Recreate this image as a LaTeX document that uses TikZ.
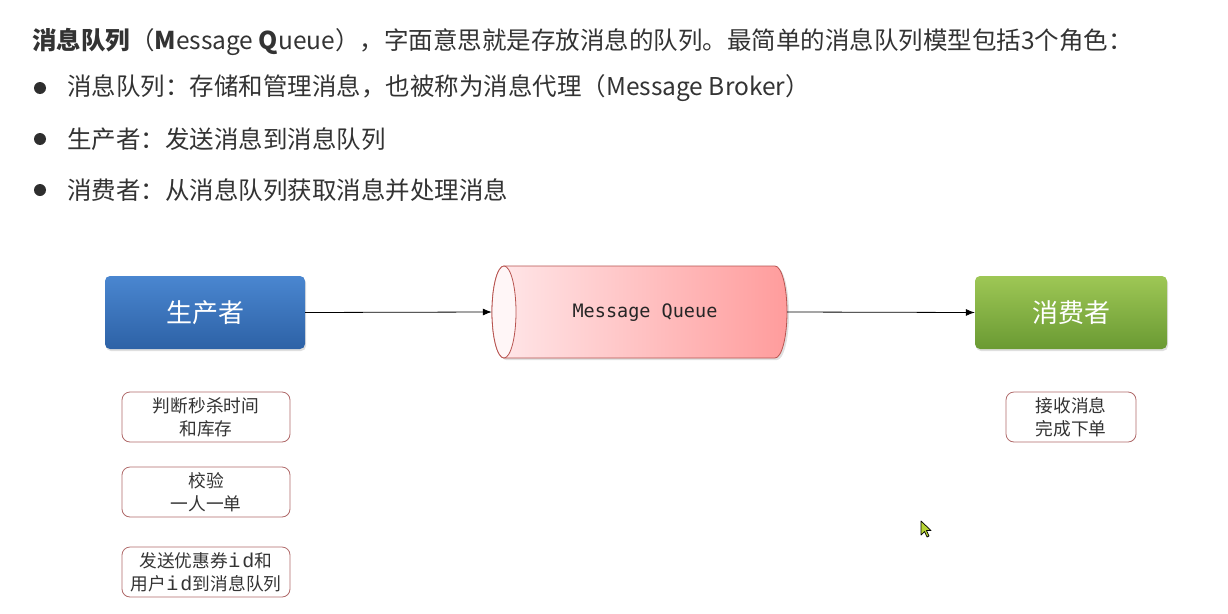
\documentclass[tikz,border=0pt]{standalone}
\usepackage{fontspec}
\setmainfont{Noto Sans CJK SC}
\newfontfamily\cjk{Noto Sans CJK SC}
\newfontfamily\monof{DejaVu Sans Mono}
\newfontfamily\idmono{Liberation Mono}
\usetikzlibrary{shadows,arrows.meta}
\definecolor{txt}{HTML}{333333}
\definecolor{bluetop}{HTML}{4A86D0}
\definecolor{bluebot}{HTML}{2D62A6}
\definecolor{greentop}{HTML}{9EC755}
\definecolor{greenbot}{HTML}{6A9A33}
\definecolor{pinkl}{HTML}{FFE8EA}
\definecolor{pinkr}{HTML}{FF9C9C}
\definecolor{pinkedge}{HTML}{B85450}
\definecolor{boxedge}{HTML}{B06A6A}
\definecolor{cursorc}{HTML}{B6D334}
\newcommand{\idtxt}{\makebox[27pt]{\idmono\fontsize{20pt}{23pt}\selectfont i\hspace{2pt}d}}
\tikzset{
  bigbox/.style={minimum width=200pt, minimum height=73pt, rounded corners=5pt,
    text=white, font=\cjk\fontsize{26pt}{30pt}\selectfont,
    drop shadow={opacity=0.25, shadow xshift=1pt, shadow yshift=-2pt}},
  notebox/.style={draw=boxedge, line width=0.8pt, fill=white, rounded corners=8pt,
    minimum width=168pt, minimum height=50pt, align=center, text=txt,
    font=\cjk\fontsize{17.7pt}{23pt}\selectfont, inner sep=2pt},
  bodytext/.style={anchor=west, text=txt, font=\cjk\fontsize{24.5pt}{28pt}\selectfont, inner sep=0pt},
  bulletdot/.style={circle, fill=txt!90!black, inner sep=0pt, minimum size=12pt},
  flow/.style={-{Latex[length=9pt,width=7pt]}, line width=0.8pt, black}
}
\begin{document}
\begin{tikzpicture}[x=1pt,y=-1pt]
\useasboundingbox[fill=white] (0,0) rectangle (1228,613);

% heading and bullets
\node[bodytext] (title) at (32,42)
  {\textbf{消息队列}（\textbf{M}essage \textbf{Q}ueue），字面意思就是存放消息的队列。最简单的消息队列模型包括3个角色：};
\node[bulletdot] (b1) at (40,88) {};
\node[bodytext] (t1) at (67,88) {消息队列：存储和管理消息，也被称为消息代理（Message Broker）};
\node[bulletdot] (b2) at (40,139) {};
\node[bodytext] (t2) at (67,139) {生产者：发送消息到消息队列};
\node[bulletdot] (b3) at (40,190) {};
\node[bodytext] (t3) at (67,190) {消费者：从消息队列获取消息并处理消息};

% producer and consumer
\node[bigbox, top color=bluetop, bottom color=bluebot, minimum width=200pt] (prod) at (205,312.5) {生产者};
\node[bigbox, top color=greentop, bottom color=greenbot, minimum width=192pt] (cons) at (1071,312.5) {消费者};

% message queue cylinder
\fill[black, opacity=0.12] (506,268) -- (777,268) arc[start angle=-90, end angle=90, x radius=12, y radius=46] -- (506,360) arc[start angle=90, end angle=270, x radius=12, y radius=46] -- cycle;
\draw[pinkedge, line width=0.8pt, left color=pinkl, right color=pinkr]
  (504,266) -- (775,266) arc[start angle=-90, end angle=90, x radius=12, y radius=46]
  -- (504,358) arc[start angle=90, end angle=270, x radius=12, y radius=46] -- cycle;
\draw[pinkedge, line width=0.8pt, fill=white!60!pinkl] (504,312) ellipse[x radius=12, y radius=46];
\node[minimum width=295pt, minimum height=92pt, inner sep=0pt] (mq) at (639.5,312) {};
\node[inner sep=0pt, font=\monof\fontsize{18.5pt}{22pt}\selectfont, text=black!85] (mqlabel) at (645,313) {Message Queue};

% connectors
\draw[flow] (prod.east) -- (mq.west);
\draw[flow] (mq.east) -- (cons.west);

% notes
\node[notebox] (n1) at (206,417) {判断秒杀时间\\和库存};
\node[notebox] (n2) at (206,492) {校验\\一人一单};
\node[notebox] (n3) at (206,572) {发送优惠券\idtxt 和\\用户\idtxt 到消息队列};
\node[notebox, minimum width=130pt] (n4) at (1071,417) {接收消息\\完成下单};

% mouse cursor
\draw[black, line width=0.7pt, fill=cursorc, line join=round]
  (921,521) -- (921,535) -- (924.5,531.5) -- (927,537) -- (929,536) -- (926.5,530.5) -- (931,530.5) -- cycle;
\end{tikzpicture}
\end{document}
